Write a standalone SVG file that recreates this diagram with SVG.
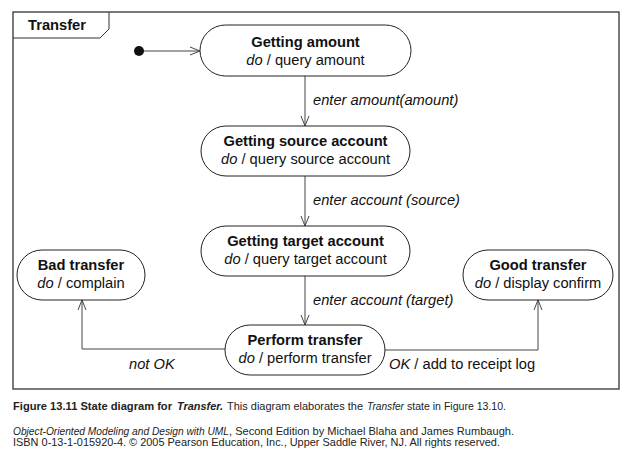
<svg xmlns="http://www.w3.org/2000/svg" width="633" height="460" viewBox="0 0 633 460">
<style>
.node{fill:#fff;stroke:#222;stroke-width:1}
.b{font-family:"Liberation Sans",Arial,sans-serif;font-size:14.7px;font-weight:bold;fill:#111;text-anchor:middle}
.r{font-family:"Liberation Sans",Arial,sans-serif;font-size:14.7px;fill:#111;text-anchor:middle}
.lab{font-family:"Liberation Sans",Arial,sans-serif;font-size:14.7px;fill:#111}
.i{font-style:italic}
.edge{fill:none;stroke:#444;stroke-width:1}
.cap{font-family:"Liberation Sans",Arial,sans-serif;font-size:10.5px;fill:#222}
.cb{font-weight:bold}
</style>
<defs>
<marker id="open" viewBox="0 0 12 10" refX="11" refY="5" markerWidth="12" markerHeight="10" markerUnits="userSpaceOnUse" orient="auto">
<path d="M1,1 L11,5 L1,9" fill="none" stroke="#444" stroke-width="1"/>
</marker>
</defs>
<rect width="633" height="460" fill="#fff"/>
<g id="frame">
<rect x="13" y="12" width="606" height="377" fill="none" stroke="#333" stroke-width="1.3"/>
<path d="M13,38 L100,38 L109,29 L109,12" fill="none" stroke="#333" stroke-width="1"/>
<text x="28" y="30" class="lab" style="font-weight:bold">Transfer</text>
</g>
<g id="connectors">
<line x1="139" y1="51" x2="200" y2="51" class="edge" marker-end="url(#open)"/>
<line x1="305" y1="76" x2="305" y2="126" class="edge" marker-end="url(#open)"/>
<line x1="305" y1="176" x2="305" y2="226" class="edge" marker-end="url(#open)"/>
<line x1="305" y1="276" x2="305" y2="325" class="edge" marker-end="url(#open)"/>
<polyline points="226,349 82,349 82,300" class="edge" marker-end="url(#open)"/>
<polyline points="384,350 538,350 538,300" class="edge" marker-end="url(#open)"/>
<text x="313" y="105" class="lab i">enter amount(amount)</text>
<text x="313" y="205" class="lab i">enter account (source)</text>
<text x="313" y="305" class="lab i">enter account (target)</text>
<text x="129" y="369" class="lab i">not OK</text>
<text x="389" y="369" class="lab"><tspan class="i">OK</tspan> / add to receipt log</text>
</g>
<g id="initial">
<circle cx="139" cy="51" r="5" fill="#111"/>
</g>
<g id="getting-amount">
<rect x="200" y="25" width="211" height="51" rx="25.5" class="node"/>
<text x="305.5" y="47" class="b">Getting amount</text>
<text x="305.5" y="65" class="r"><tspan class="i">do</tspan> / query amount</text>
</g>
<g id="getting-source">
<rect x="201" y="126" width="209" height="50" rx="25" class="node"/>
<text x="305.5" y="146" class="b">Getting source account</text>
<text x="305.5" y="164" class="r"><tspan class="i">do</tspan> / query source account</text>
</g>
<g id="getting-target">
<rect x="201" y="226" width="209" height="50" rx="25" class="node"/>
<text x="305.5" y="246" class="b">Getting target account</text>
<text x="305.5" y="264" class="r"><tspan class="i">do</tspan> / query target account</text>
</g>
<g id="perform-transfer">
<rect x="225" y="325" width="160" height="50" rx="25" class="node"/>
<text x="305" y="345" class="b">Perform transfer</text>
<text x="305" y="363" class="r"><tspan class="i">do</tspan> / perform transfer</text>
</g>
<g id="bad-transfer">
<rect x="17" y="250" width="128" height="50" rx="25" class="node"/>
<text x="81" y="270" class="b">Bad transfer</text>
<text x="81" y="288" class="r"><tspan class="i">do</tspan> / complain</text>
</g>
<g id="good-transfer">
<rect x="463" y="250" width="150" height="50" rx="25" class="node"/>
<text x="538" y="270" class="b">Good transfer</text>
<text x="538" y="288" class="r"><tspan class="i">do</tspan> / display confirm</text>
</g>
<g id="caption">
<text x="13" y="410" class="cap cb" textLength="159" lengthAdjust="spacingAndGlyphs">Figure 13.11  State diagram for</text>
<text x="177" y="410" class="cap cb i" textLength="46" lengthAdjust="spacingAndGlyphs">Transfer.</text>
<text x="227" y="410" class="cap" textLength="136" lengthAdjust="spacingAndGlyphs">This diagram elaborates the</text>
<text x="367" y="410" class="cap i" textLength="37" lengthAdjust="spacingAndGlyphs">Transfer</text>
<text x="407" y="410" class="cap" textLength="99" lengthAdjust="spacingAndGlyphs">state in Figure 13.10.</text>
<text x="13" y="435" class="cap i" textLength="216" lengthAdjust="spacingAndGlyphs">Object-Oriented Modeling and Design with UML</text>
<text x="229" y="435" class="cap" textLength="285" lengthAdjust="spacingAndGlyphs">, Second Edition by Michael Blaha and James Rumbaugh.</text>
<text x="13" y="446" class="cap" textLength="487" lengthAdjust="spacingAndGlyphs">ISBN 0-13-1-015920-4. © 2005 Pearson Education, Inc., Upper Saddle River, NJ. All rights reserved.</text>
</g>
</svg>
